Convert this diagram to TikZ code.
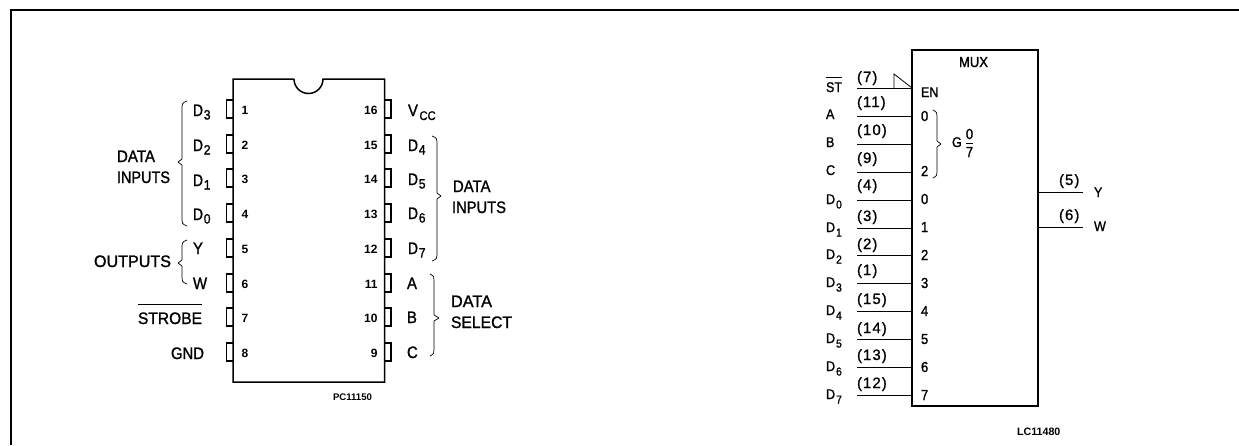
\documentclass[tikz,border=0pt]{standalone}
\usepackage{graphicx}
\usepackage{fontspec}
\setmainfont{Liberation Sans}[FakeStretch=0.9,FakeBold=1.2]
\newfontfamily\spacedfont{Liberation Sans}[LetterSpace=7,FakeBold=1]
\newfontfamily\boldcode{Liberation Sans Bold}
\newcommand\fsBig{\fontsize{16.6}{16.6}\selectfont}
\newcommand\fsSub{\fontsize{13.5}{13.5}\selectfont}
\newcommand\fsCC{\fontsize{12.5}{12.5}\selectfont}
\newcommand\fsMux{\fontsize{14}{14}\selectfont}
\newcommand\fsMuxNum{\fontsize{14.5}{14.5}\selectfont}
\newcommand\fsMuxSub{\fontsize{11.5}{11.5}\selectfont}
\newcommand\fitw[2]{\resizebox{#1pt}{\height}{#2}}
\newcommand\Dbig[1]{\fitw{10}{D}\kern0.8pt\raisebox{-3.5pt}{\fsSub #1}}
\newcommand\Dmux[1]{D\kern1pt\raisebox{-4.5pt}{\fsMuxSub #1}}
\tikzset{
  x=1pt,y=-1pt,
  every node/.style={inner sep=0pt,outer sep=0pt,text=black},
  big/.style={anchor=base west,font=\fsBig},
  bigr/.style={anchor=base east,font=\fsBig},
  pinnum/.style={font={\boldcode\fontsize{12}{12}\selectfont}},
  muxt/.style={anchor=base west,font=\fsMux},
  muxnum/.style={anchor=base west,font=\fsMuxNum},
  wirenum/.style={anchor=base west,font={\spacedfont\fontsize{15}{15}\selectfont}},
  code/.style={anchor=base west},
  frame/.style={line width=2pt,line cap=butt},
  body/.style={line width=1.5pt,line join=miter},
  pinbox/.style={line width=1.1pt},
  brace/.style={line width=0.7pt,line join=round},
  wire/.style={line width=1pt},
}
% brace: x-end, x-spine, x-tip, y-top, y-mid, y-bottom
\newcommand\mybrace[6]{%
  \draw[brace] (#1,#4) .. controls (#2,{#4+2}) and (#2,{#4+3}) .. (#2,{#4+6})
    -- (#2,{#5-3}) -- (#3,#5) -- (#2,{#5+3}) -- (#2,{#6-6})
    .. controls (#2,{#6-3}) and (#2,{#6-2}) .. (#1,#6);}
\begin{document}
\begin{tikzpicture}
\useasboundingbox (0,0) rectangle (1239,445);
% frame
\coordinate (fbl) at (11,445);
\coordinate (ftl) at (11,10);
\coordinate (ftr) at (1239,10);
\draw[frame] (fbl) -- (ftl) -- (ftr);

% ---- DIP package
\draw[body] (294,79) -- (233,79) -- (233,382) -- (384.5,382) -- (384.5,79) -- (323,79)
  arc[start angle=0,end angle=-180,x radius=14.5,y radius=-14.5];
\foreach \n/\y in {1/109,2/144,3/178,4/213,5/248,6/283,7/317,8/352}{
  \draw[pinbox] (233,\y-9) -- (226.5,\y-9) -- (226.5,\y+9) -- (233,\y+9);
  \node[pinnum] (pl\n) at (245,\y+1) {\n};
}
\foreach \n/\y in {16/109,15/144,14/178,13/213,12/248,11/283,10/317,9/352}{
  \draw[pinbox] (384.5,\y-9) -- (391,\y-9) -- (391,\y+9) -- (384.5,\y+9);
  \node[pinnum,anchor=east] (pr\n) at (377.5,\y+1) {\n};
}
% left labels
\node[big] (d3) at (193,116) {\Dbig{3}};
\node[big] (d2) at (193,151) {\Dbig{2}};
\node[big] (d1) at (193,186) {\Dbig{1}};
\node[big] (d0) at (193,220) {\Dbig{0}};
\node[big] (ly) at (193,254) {Y};
\node[big] (lw) at (193,289) {W};
\node[bigr] (strobe) at (202,324) {\fitw{64}{STROBE}};
\draw[line width=0.9pt] ([yshift=7.6pt]strobe.north west) -- ([yshift=7.6pt]strobe.north east);
\node[bigr] (gnd) at (204,359) {\fitw{33}{GND}};
\node[big] (dataL) at (117,162) {\fitw{38}{DATA}};
\node[big] (inpL) at (117,183) {\fitw{53}{INPUTS}};
\node[bigr] (outp) at (171,267) {\fitw{77}{OUTPUTS}};
\mybrace{187}{182}{178}{101}{162}{226}
\mybrace{187}{182}{178}{240}{263}{284}
% right labels
\node[big] (vcc) at (408,116) {V\kern1.5pt\raisebox{-4pt}{\fsCC CC}};
\node[big] (d4) at (408,151) {\Dbig{4}};
\node[big] (d5) at (408,185) {\Dbig{5}};
\node[big] (d6) at (408,219) {\Dbig{6}};
\node[big] (d7) at (408,254) {\Dbig{7}};
\node[big] (la) at (407,289) {A};
\node[big] (lb) at (407,323) {B};
\node[big] (lc) at (407,358) {C};
\node[big] (dataR) at (453,192) {\fitw{37.5}{DATA}};
\node[big] (inpR) at (452,213) {\fitw{54}{INPUTS}};
\node[big] (dataS) at (451,307) {\fitw{41}{DATA}};
\node[big] (selS) at (451,328) {\fitw{61}{SELECT}};
\mybrace{432}{437}{441}{136}{196}{261}
\mybrace{430}{434}{439}{274}{318}{356}
\node[code,font={\boldcode\fontsize{9.6}{9.6}\selectfont}] (pc) at (333,400) {PC11150};

% ---- MUX symbol
\node[draw,line width=1.7pt,minimum width=126pt,minimum height=356pt,anchor=north west] (mux) at (912,50) {};
\node[muxt,font={\fontsize{14.5}{14.5}\selectfont}] (muxt) at (959,67) {MUX};
% input wires: y, number, number baseline
\foreach \k/\y/\w/\b in {st/88/(7)/82,wa/116/(11)/107,wb/144/(10)/135,wc/172/(9)/163,w0/200/(4)/190,w1/228/(3)/221,w2/255/(2)/249,w3/283/(1)/275,w4/311/(15)/304,w5/339/(14)/333,w6/367/(13)/360,w7/395/(12)/388}{
  \coordinate (\k) at (857,\y);
  \draw[wire] (\k) -- (\k -| mux.west);
  \node[wirenum] (n\k) at (857,\b) {\w};
}
\coordinate (trtop) at (894,74);
\draw[line width=0.8pt] (st -| trtop) -- (trtop) -- (st -| mux.west);
% signal names
\node[muxt] (st1) at (826,92) {\fitw{16}{ST}};
\draw[line width=0.9pt] ([yshift=4.4pt]st1.north west) -- ([yshift=4.4pt]st1.north east);
\node[muxt] (ma) at (826,119) {A};
\node[muxt] (mb) at (826,147) {B};
\node[muxt] (mc) at (826,175) {C};
\node[muxt] (md0) at (826,204) {\Dmux{0}};
\node[muxt] (md1) at (826,232) {\Dmux{1}};
\node[muxt] (md2) at (826,259) {\Dmux{2}};
\node[muxt] (md3) at (826,287) {\Dmux{3}};
\node[muxt] (md4) at (826,315) {\Dmux{4}};
\node[muxt] (md5) at (826,343) {\Dmux{5}};
\node[muxt] (md6) at (826,371) {\Dmux{6}};
\node[muxt] (md7) at (826,399) {\Dmux{7}};
% inside labels
\node[muxt] (en) at (921,97) {\fitw{17.5}{EN}};
\node[muxnum] (i0a) at (921,121) {0};
\node[muxnum] (i2a) at (921,176) {2};
\foreach \n/\y in {0/204,1/232,2/260,3/288,4/316,5/344,6/372,7/400}{
  \node[muxnum] (in\n) at (921,\y) {\n};
}
\mybrace{933}{937}{941}{110}{144}{178}
\node[muxt] (gg) at (952,147) {G};
\node[anchor=base,font=\fsMuxNum] (fr0) at (969.5,139) {0};
\node[anchor=base,font=\fsMuxNum] (fr7) at (969.5,157) {7};
\draw[line width=1pt] ([yshift=-4pt]fr0.south west) -- ([yshift=-4pt]fr0.south east);
% outputs
\coordinate (oy) at (1083,192);
\coordinate (ow) at (1083,227);
\draw[wire] (oy -| mux.east) -- (oy);
\draw[wire] (ow -| mux.east) -- (ow);
\node[wirenum] (n5) at (1059,185) {(5)};
\node[wirenum] (n6) at (1059,220) {(6)};
\node[muxt] (oyt) at (1094,197) {Y};
\node[muxt] (owt) at (1094,231) {W};
\node[code,font={\boldcode\fontsize{10.7}{10.7}\selectfont}] (lc1) at (1017,435) {LC11480};
\end{tikzpicture}
\end{document}
